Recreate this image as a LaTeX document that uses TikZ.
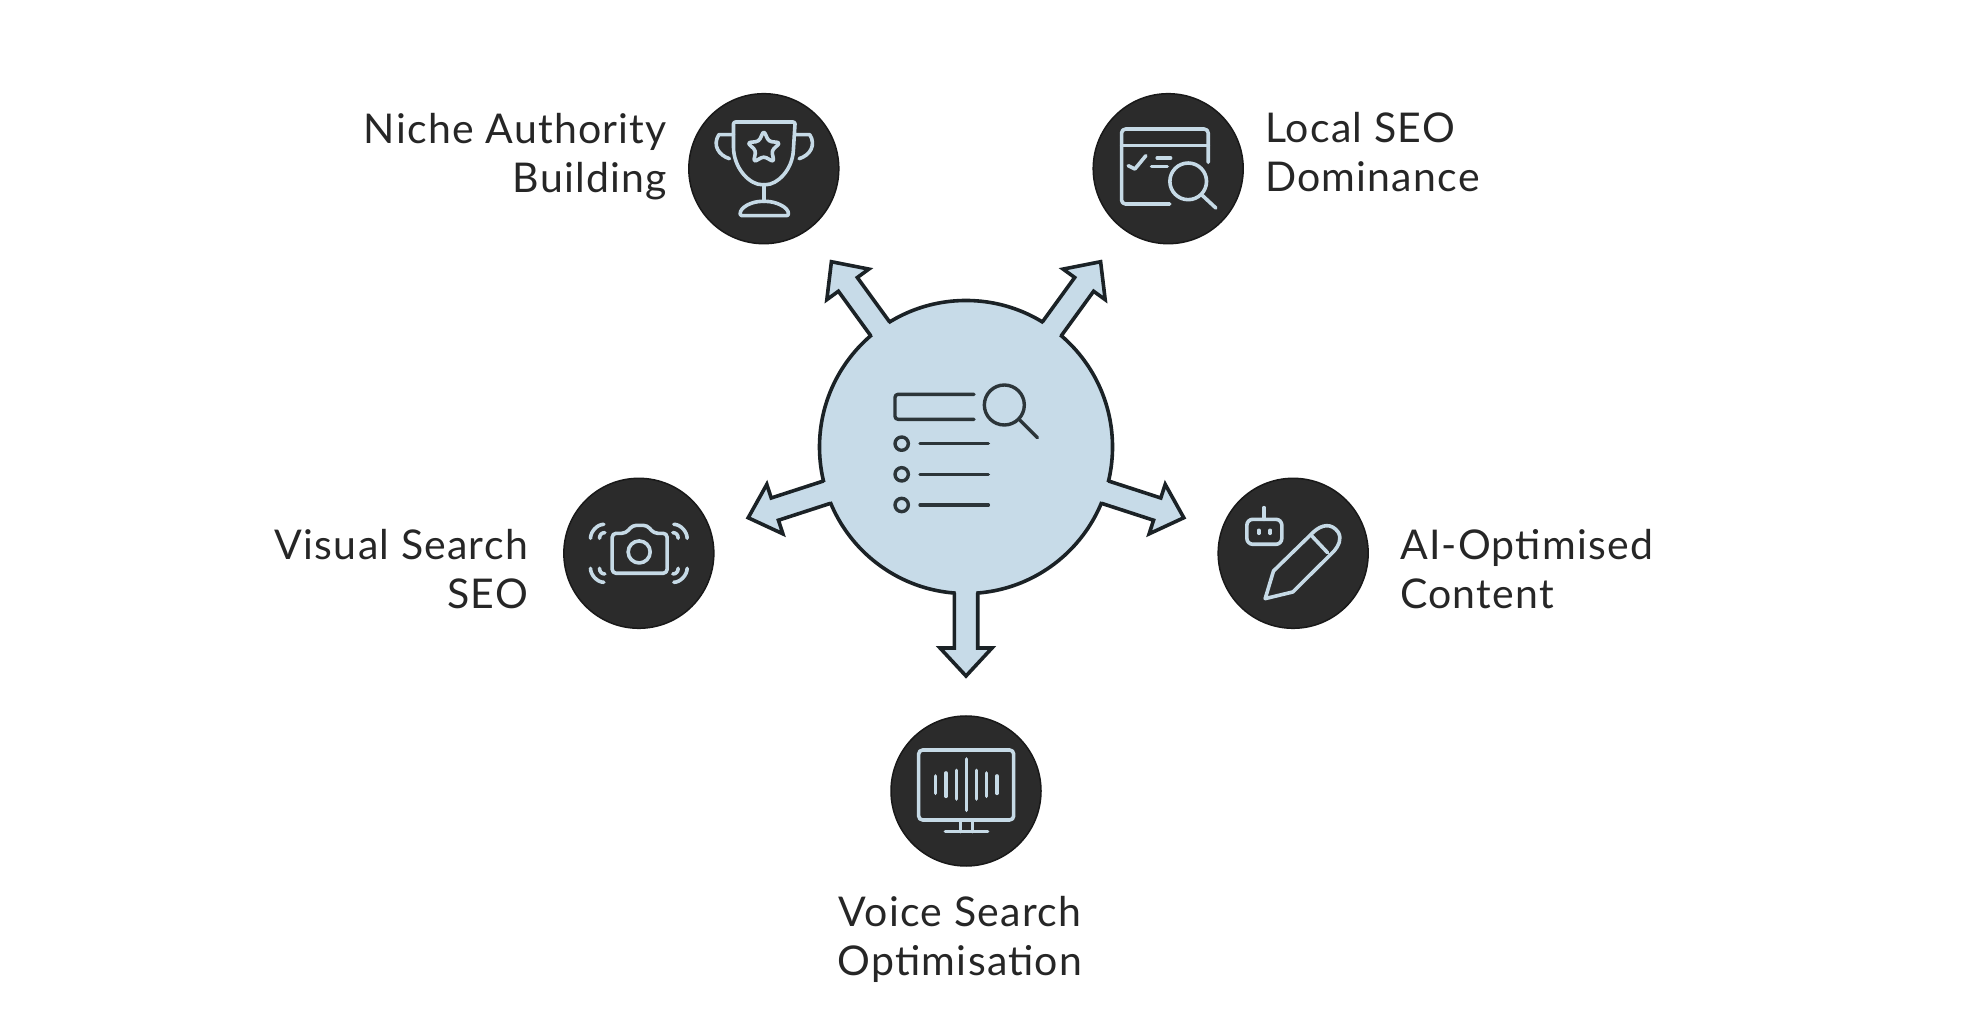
\documentclass[tikz,border=0pt]{standalone}
\usepackage{fontspec}
\setmainfont{Lato}[LetterSpace=3]
\usetikzlibrary{positioning}
\definecolor{hubblue}{HTML}{C7DBE8}
\definecolor{iconblue}{HTML}{C6DAE6}
\definecolor{darkdisc}{HTML}{2B2B2B}
\definecolor{inkline}{HTML}{1B2226}
\tikzset{
    hubdisc/.style={circle, draw=inkline, fill=hubblue, line width=3.6pt, minimum size=293pt, inner sep=0pt},
    satdisc/.style={circle, draw=black!90, fill=darkdisc, line width=1.5pt, minimum size=150pt, inner sep=0pt},
    satlabel/.style={inner sep=0pt, text=black!85, font=\fontsize{41}{49}\selectfont},
    hubline/.style={draw=inkline, line width=3.6pt},
    hubicon/.style={draw=inkline!90!hubblue, line width=3.4pt, line cap=round, line join=round},
    iconline/.style={draw=iconblue, line width=3.6pt, line cap=round, line join=round},
    zoomed/.style={shift={(#1.center)}, x=.3333pt, y=-.3333pt}
}
\begin{document}
\begin{tikzpicture}[x=1pt, y=1pt]
\useasboundingbox (0,0) rectangle (1980,1020);
\node[hubdisc] (hub) at (966,573) {};
\foreach \a in {54,126,198,270,342}
{
    \fill[hubblue, shift={(hub.center)}, rotate=\a](138,-10)--(201,-11.7)--(201,-26)--(229,0)--(201,26)--(201,11.7)--(138,10)--cycle;
    \draw[hubline, shift={(hub.center)}, rotate=\a](146,-11.7)--(201,-11.7)--(201,-26)--(229,0)--(201,26)--(201,11.7)--(146,11.7);
}
\node[satdisc] (niche) at ([shift={(126:344)}]hub.center) {};
\node[satdisc] (local) at ([shift={(54:344)}]hub.center) {};
\node[satdisc] (visual) at ([shift={(198:344)}]hub.center) {};
\node[satdisc] (aiopt) at ([shift={(342:344)}]hub.center) {};
\node[satdisc] (voice) at ([shift={(270:344)}]hub.center) {};
\node[satlabel, align=right, left=21pt of niche, yshift=12pt] (nicheText) {Niche Authority\\Building};
\node[satlabel, align=left, right=21pt of local, yshift=17pt] (localText) {Local SEO\\Dominance};
\node[satlabel, align=right, left=35pt of visual, yshift=-16pt] (visualText) {Visual Search\\SEO};
\node[satlabel, align=left, right=31pt of aiopt, yshift=-16pt] (aioptText) {AI-Optimised\\Content};
\node[satlabel, align=center, below=29pt of voice, xshift=-6pt] (voiceText) {Voice Search\\Optimisation};
\begin{scope}[zoomed=hub]
    \draw[hubicon, rounded corners=3pt](24,-158)--(-213,-158)--(-213,-83)--(24,-83);
    \draw[hubicon](115,-126) circle(60);
    \draw[hubicon](162,-80)--(214,-28);
    \foreach \y in {-10,82,174}
    {
        \draw[hubicon](-193,\y) circle(20);
        \draw[hubicon](-138,\y)--(67,\y);
    }
\end{scope}
\begin{scope}[zoomed=niche]
    \draw[iconline, rounded corners=2pt](-91,-140)--(94,-140)--(89,-60) .. controls (85,5) and (40,48) .. (0,48) .. controls (-40,48) and (-85,5) .. (-91,-60)--cycle;
    \draw[iconline](0,48)--(0,98);
    \draw[iconline, rounded corners=2pt](-71,141) .. controls (-71,115) and (-35,98) .. (0,98) .. controls (35,98) and (74,115) .. (74,141)--cycle;
    \draw[iconline](-91,-102)--(-135,-102) .. controls (-155,-70) and (-135,-40) .. (-103,-30);
    \draw[iconline](94,-102)--(138,-102) .. controls (158,-70) and (138,-40) .. (106,-30);
    \draw[iconline, rounded corners=3pt, shift={(0,-62)}](0,-52)--(14.7,-20)--(49.5,-16)--(23.8,7.7)--(30.6,42)--(0,25)--(-30.6,42)--(-23.8,7.7)--(-49.5,-16)--(-14.7,-20)--cycle;
\end{scope}
\begin{scope}[zoomed=local]
    \draw[iconline, rounded corners=4pt](5,106)--(-140,106)--(-140,-119)--(120,-119)--(120,-19);
    \draw[iconline](-140,-70)--(120,-70);
    \draw[iconline](-120,-9)--(-100,1)--(-67,-39);
    \draw[iconline](-33,-32)--(7,-32);
    \draw[iconline](-50,-7)--(-3,-7);
    \draw[iconline](60,38) circle(55);
    \draw[iconline](100,78)--(143,118);
\end{scope}
\begin{scope}[zoomed=visual]
    \draw[iconline, rounded corners=4pt](-80,-60)--(-39,-60)--(-19,-84)--(25,-84)--(45,-60)--(85,-60)--(85,60)--(-80,60)--cycle;
    \draw[iconline](1,-4) circle(33);
    \foreach \sx in {-1,1}
    {
        \foreach \sy in {-1,1}
        {
            \draw[iconline](\sx*145,\sy*45) .. controls (\sx*145,\sy*65) and (\sx*125,\sy*87) .. (\sx*105,\sy*87);
            \draw[iconline](\sx*118,\sy*45) .. controls (\sx*118,\sy*55) and (\sx*112,\sy*62) .. (\sx*102,\sy*62);
        }
    }
\end{scope}
\begin{scope}[zoomed=aiopt]
    \draw[iconline, rounded corners=6pt](-139,-102)--(-34,-102)--(-34,-27)--(-139,-27)--cycle;
    \draw[iconline](-87,-102)--(-87,-137);
    \draw[iconline](-103,-69)--(-103,-60);
    \draw[iconline](-69,-69)--(-69,-60);
    \draw[iconline](-84,136)--(-59,53)--(61,-64) .. controls (86,-87) and (116,-92) .. (136,-62) .. controls (146,-42) and (136,-22) .. (123,-7)--(-1,116)--cycle;
    \draw[iconline](56,-52)--(103,-2);
\end{scope}
\begin{scope}[zoomed=voice]
    \draw[iconline, rounded corners=4pt, line width=3.6pt](-142,-123)--(143,-123)--(143,87)--(-142,87)--cycle;
    \draw[iconline](-17,87)--(-17,122);
    \draw[iconline](20,87)--(20,122);
    \draw[iconline](-62,122)--(65,122);
    \foreach \x/\h in {-91/26,-60/35,-29/43,1/77,31/43,62/35,93/26}
    {
        \draw[iconline, line width=3.6pt](\x,-19-\h)--(\x,-19+\h);
    }
\end{scope}
\end{tikzpicture}
\end{document}
